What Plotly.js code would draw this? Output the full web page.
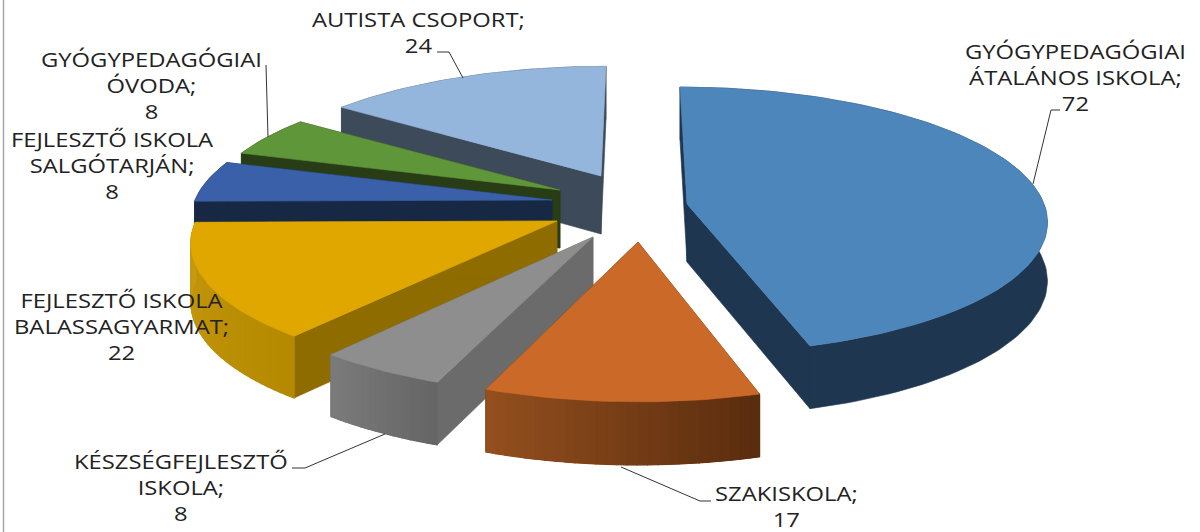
<!DOCTYPE html>
<html><head><meta charset="utf-8">
<script src="https://cdn.plot.ly/plotly-3.0.1.min.js"></script>
<style>html,body{margin:0;padding:0;background:#fff}#c{width:1200px;height:532px}
.annotation-text{transform-box:fill-box;transform-origin:center;transform:scaleX(1.19)}</style></head><body><div id="c"></div>
<script>
const categories=["GYÓGYPEDAGÓGIAI<br>ÁTALÁNOS ISKOLA","SZAKISKOLA","KÉSZSÉGFEJLESZTŐ<br>ISKOLA","FEJLESZTŐ ISKOLA<br>BALASSAGYARMAT","FEJLESZTŐ ISKOLA<br>SALGÓTARJÁN","GYÓGYPEDAGÓGIAI<br>ÓVODA","AUTISTA CSOPORT"];
const values=[72,17,8,22,8,8,24];
const topColors=["#4d86bb","#cb6a28","#8e8e8e","#dfa700","#3960a8","#60963a","#94b5dc"];
const wallColors=["#1f3650","#5a2d0e","#6b6b6b","#8e6c00","#172845","#283d15","#3d4a59"];
const curveFrom=["#1f3650","#5a2d0e","#666666","#b58a00","#172845","#283d15","#3d4a59"];
const curveTo=["#1f3650","#95501f","#7c7c7c","#c89a10","#172845","#283d15","#3d4a59"];
// exploded-apex position and projection settings per slice
const apexX=[687,638,593,557,552,560,601];
const apexY=[204,242,237,221,200,190,176];
const radiusX=[357,364,364,361,357,350,354];
const radiusY=[133,139,137,134,130,128,129];
const persp=[.121,.15,.15,.15,.15,.15,.15];
const skew=[7,0,-4,-8,0,0,-5];
const drawOrder=[6,5,4,3,2,1,0];
const labelX=[1075,786,181,121,112,151,418];
const labelY=[77,506,487,326,165,85,32];
const leaders=[[[1060,110],[1051,110],[1033,184]],[[621,467],[700,501],[711,501]],[[292,468],[305,468],[385,434]],[[266,65],[268,137]],[[437,52],[449,52],[463,78]]];

const total=values.reduce((a,b)=>a+b,0);
const hex=c=>[1,3,5].map(i=>parseInt(c.substr(i,2),16));
const mix=(a,b,t)=>{const p=hex(a),q=hex(b);return`rgb(${p.map((v,i)=>Math.round(v+(q[i]-v)*t)).join(",")})`};
function proj(i,th,r){const X=Math.sin(th)*r,Y=-Math.cos(th)*r,s=1+persp[i]*Y;
  return [apexX[i]+radiusX[i]*X*s+skew[i]*Y,apexY[i]+radiusY[i]*Y*s,58+5*Y];}
const traces=[];
function poly(pts,color,name,w){traces.push({type:"scatter",mode:"lines",x:pts.map(p=>p[0]),y:pts.map(p=>p[1]),fill:"toself",fillcolor:color,line:{color:color,width:w===undefined?.6:w},hoverinfo:"skip",showlegend:false,name:name});}
let acc=0;const spans=values.map(v=>{const a=acc/total*2*Math.PI;acc+=v;return[a,acc/total*2*Math.PI]});
drawOrder.forEach(i=>{
  const [a,b]=spans[i],n=Math.max(6,Math.ceil((b-a)*40));
  const edge=[];for(let k=0;k<=n;k++){edge.push(proj(i,a+(b-a)*k/n,1));}
  const C=proj(i,a,0);
  const low=p=>[p[0],p[1]+p[2]];
  // flat cut faces
  [edge[0],edge[n]].forEach(e=>poly([[C[0],C[1]],[e[0],e[1]],low(e),low(C),[C[0],C[1]]],wallColors[i],categories[i]));
  // curved outer wall: solid backing, then gradient strips where the colour varies
  const backing=edge.map(p=>[p[0],p[1]]).concat(edge.slice().reverse().map(low));backing.push(backing[0]);
  poly(backing,mix(curveFrom[i],curveTo[i],.5),categories[i]);
  if(curveFrom[i]!==curveTo[i]){
    for(let k=0;k<n;k++){const p=edge[k],q=edge[k+1];const c=mix(curveFrom[i],curveTo[i],k/n);
      poly([[p[0],p[1]],[q[0],q[1]],low(q),low(p),[p[0],p[1]]],c,categories[i],1.2);}
  }
  // top face
  poly([[C[0],C[1]]].concat(edge.map(p=>[p[0],p[1]])).concat([[C[0],C[1]]]),topColors[i],categories[i]);
});
const annotations=categories.map((c,i)=>({x:labelX[i],y:labelY[i],xref:"x",yref:"y",text:c+";<br>"+values[i],showarrow:false,xanchor:"center",yanchor:"middle",align:"center",font:{family:"Open Sans",size:20,color:"#222222"}}));
const shapes=leaders.map(l=>({type:"path",xref:"x",yref:"y",path:"M"+l.map(p=>p.join(",")).join("L"),line:{color:"#333333",width:1}}));
shapes.push({type:"line",xref:"x",yref:"y",x0:3.5,x1:3.5,y0:0,y1:532,line:{color:"#a6a6a6",width:1.5}});
Plotly.newPlot("c",traces,{width:1200,height:532,margin:{l:0,r:0,t:0,b:0},paper_bgcolor:"#fff",plot_bgcolor:"#fff",showlegend:false,
 xaxis:{visible:false,range:[0,1200],fixedrange:true},yaxis:{visible:false,range:[532,0],fixedrange:true},annotations,shapes},{displayModeBar:false});
</script></body></html>
